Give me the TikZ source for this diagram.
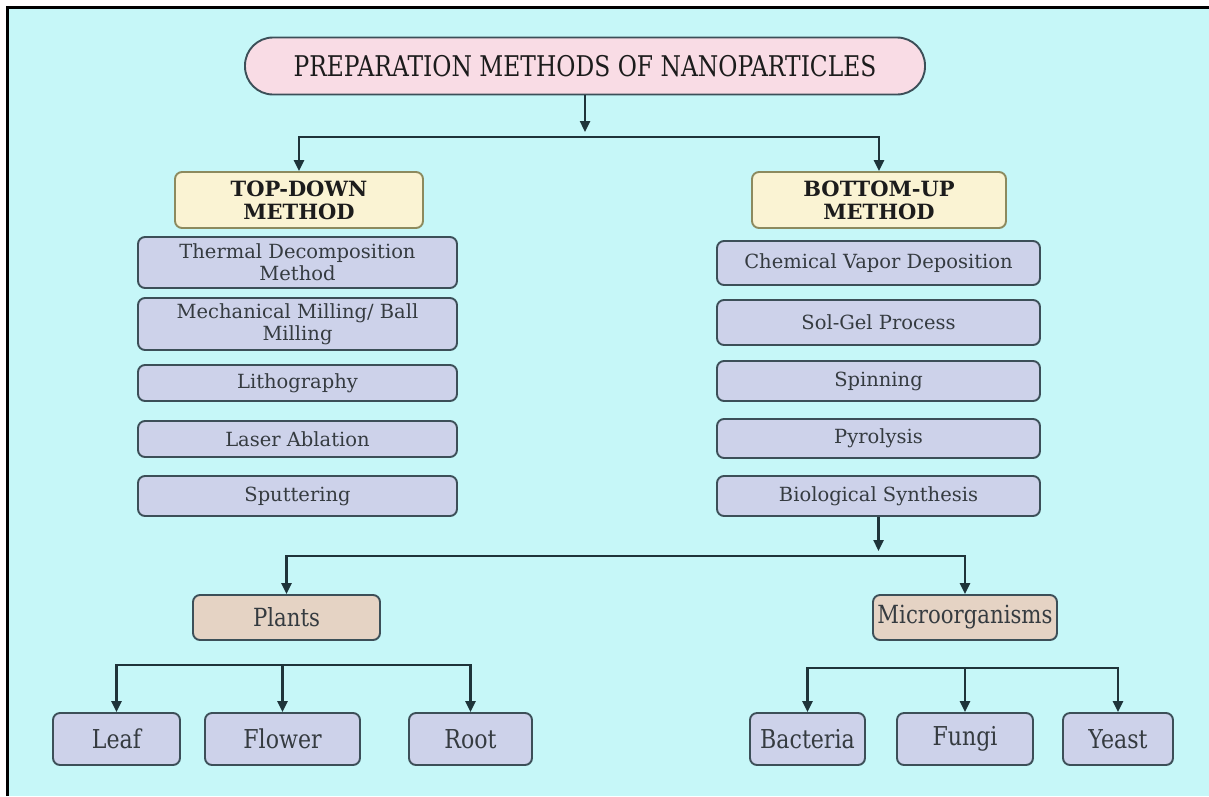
\documentclass[tikz,border=0pt]{standalone}
\usepackage{fontspec}
\setmainfont{DejaVu Serif}
\usetikzlibrary{arrows.meta}
\definecolor{bgcyan}{HTML}{C6F7F8}
\definecolor{pinkfill}{HTML}{F9DCE5}
\definecolor{yellowfill}{HTML}{FAF3D3}
\definecolor{lavfill}{HTML}{CDD2EA}
\definecolor{tanfill}{HTML}{E5D3C4}
\definecolor{edge}{HTML}{3C4F58}
\definecolor{olive}{HTML}{8C8A5E}
\definecolor{conncol}{HTML}{1E343A}
\definecolor{txt}{HTML}{353B40}
\definecolor{titletxt}{HTML}{1C1C1C}
\tikzset{
  basebox/.style={draw=edge, line width=1.9pt, rounded corners=7pt, align=center,
    text=txt, inner sep=0pt},
  titlebox/.style={basebox, fill=pinkfill, rounded corners=28pt, text=titletxt,
    font=\fontsize{28.5}{32}\selectfont},
  methodbox/.style={basebox, fill=yellowfill, draw=olive, text=titletxt,
    font=\fontsize{21}{23}\selectfont\bfseries},
  listbox/.style={basebox, fill=lavfill, font=\fontsize{19.5}{22}\selectfont},
  groupbox/.style={basebox, fill=tanfill, font=\fontsize{25}{28}\selectfont},
  leafbox/.style={basebox, fill=lavfill, font=\fontsize{26}{29}\selectfont},
  conn/.style={draw=conncol, line width=2.4pt},
  tip/.style={-{Triangle[length=11pt,width=10pt]}},
  tips/.style={{Triangle[length=11pt,width=10pt]}-{Triangle[length=11pt,width=10pt]}},
}
\newcommand\squeeze[2]{\scalebox{#1}[1]{#2}}
\begin{document}
\begin{tikzpicture}[x=1pt,y=-1pt]
\useasboundingbox (0,0) rectangle (1209,796);
\fill[white] (0,0) rectangle (1209,796);
\fill[bgcyan] (7,7) rectangle (1209,796);
\draw[black, line width=3pt] (7,796) -- (7,7) -- (1209,7);

% title
\node[titlebox, minimum width=680pt, minimum height=57pt] (title) at (585,66)
  {\squeeze{0.82}{PREPARATION METHODS OF NANOPARTICLES}};

% two method headers
\node[methodbox, minimum width=248pt, minimum height=56pt] (td) at (299,200)
  {TOP-DOWN\\METHOD};
\node[methodbox, minimum width=254pt, minimum height=56pt] (bu) at (879,200)
  {BOTTOM-UP\\METHOD};

% top-down techniques
\node[listbox, minimum width=319pt, minimum height=51pt] (t1) at (297.5,262.5)
  {Thermal Decomposition\\Method};
\node[listbox, minimum width=319pt, minimum height=52pt] (t2) at (297.5,324)
  {Mechanical Milling/ Ball\\Milling};
\node[listbox, minimum width=319pt, minimum height=36pt] (t3) at (297.5,383)
  {Lithography};
\node[listbox, minimum width=319pt, minimum height=36pt] (t4) at (297.5,439)
  {Laser Ablation};
\node[listbox, minimum width=319pt, minimum height=40pt] (t5) at (297.5,496)
  {Sputtering};

% bottom-up techniques
\node[listbox, minimum width=323pt, minimum height=44pt] (b1) at (878.5,263)
  {Chemical Vapor Deposition};
\node[listbox, minimum width=323pt, minimum height=45pt] (b2) at (878.5,322.5)
  {Sol-Gel Process};
\node[listbox, minimum width=323pt, minimum height=40pt] (b3) at (878.5,381)
  {Spinning};
\node[listbox, minimum width=323pt, minimum height=39pt] (b4) at (878.5,438.5)
  {Pyrolysis};
\node[listbox, minimum width=323pt, minimum height=40pt] (b5) at (878.5,496)
  {Biological Synthesis};

% biological sources
\node[groupbox, minimum width=187pt, minimum height=45pt] (pl) at (286.5,617.5)
  {\squeeze{0.85}{Plants}};
\node[groupbox, minimum width=184pt, minimum height=45pt] (mi) at (965,617.5)
  {\squeeze{0.85}{Microorganisms}};

% plant parts
\node[leafbox, minimum width=127pt, minimum height=52pt] (leaf) at (116.5,739)
  {\squeeze{0.85}{Leaf}};
\node[leafbox, minimum width=155pt, minimum height=52pt] (flower) at (282.5,739)
  {\squeeze{0.85}{Flower}};
\node[leafbox, minimum width=123pt, minimum height=52pt] (root) at (470.5,739)
  {\squeeze{0.85}{Root}};

% microorganisms
\node[leafbox, minimum width=115pt, minimum height=52pt] (bac) at (807.5,739)
  {\squeeze{0.85}{Bacteria}};
\node[leafbox, minimum width=136pt, minimum height=52pt] (fun) at (965,739)
  {\squeeze{0.85}{Fungi}};
\node[leafbox, minimum width=110pt, minimum height=52pt] (yea) at (1118,739)
  {\squeeze{0.85}{Yeast}};

% junction points of the connectors
\coordinate (j1) at (585,137);
\coordinate (j2) at (878.5,556);
\coordinate (j3) at (284,665);
\coordinate (j4) at (967,668);

% title to methods
\draw[conn, tip] (title.south) -- ([yshift=5pt]j1);
\draw[conn, tips]
  (td.north) -- (td.north |- j1) -- (bu.north |- j1) -- (bu.north);

% biological synthesis to sources
\draw[conn, tip] (b5.south) -- ([yshift=5pt]j2);
\draw[conn, tips]
  (pl.north) -- (pl.north |- j2) -- (mi.north |- j2) -- (mi.north);

% plants to parts
\draw[conn, tips]
  (leaf.north) -- (leaf.north |- j3) -- (root.north |- j3) -- (root.north);
\draw[conn, tip] (flower.north |- j3) -- (flower.north);

% microorganisms to kinds
\draw[conn, tips]
  (bac.north) -- (bac.north |- j4) -- (yea.north |- j4) -- (yea.north);
\draw[conn, tip] (fun.north |- j4) -- (fun.north);
\end{tikzpicture}
\end{document}
